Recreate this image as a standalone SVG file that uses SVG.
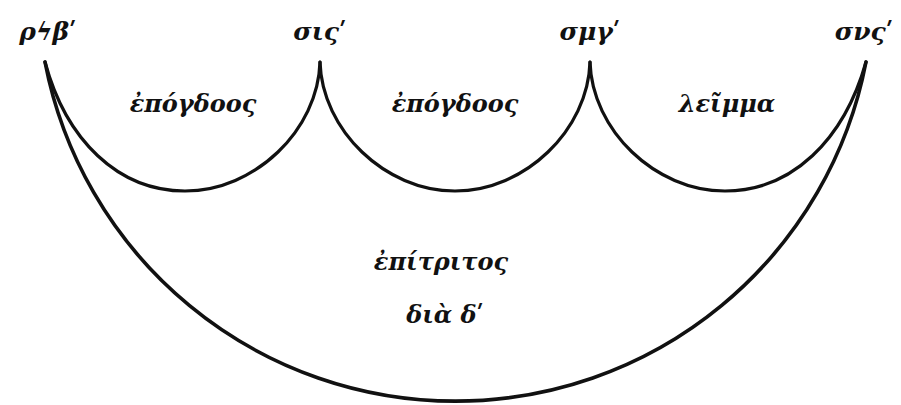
<svg xmlns="http://www.w3.org/2000/svg" width="901" height="405" viewBox="0 0 901 405">
<style>
.arc{fill:none;stroke:#111;stroke-linecap:round;stroke-linejoin:round}
.big{stroke-width:3.6}
.small{stroke-width:3.2}
text{font-family:"DejaVu Serif","Liberation Serif",serif;font-weight:bold;font-style:italic;fill:#111;text-anchor:middle}
.num{font-size:25px}
.lab{font-size:24px}
</style>
<rect width="901" height="405" fill="#fff"/>
<g id="connectors">
<path id="big-arc" class="arc big" d="M45,62 A418,418 0 0 0 866,62"/>
<path id="arc1" class="arc small" d="M45,62 C66,140 118,191 185,191 C255,191 318,130 320,62"/>
<path id="arc2" class="arc small" d="M320,62 C322,130 385,191 455,191 C525,191 588,130 590,62"/>
<path id="arc3" class="arc small" d="M590,62 C592,130 655,191 725,191 C792,191 844,140 866,62"/>
</g>
<g id="n192"><text class="num" x="48" y="40">ρϟβʹ</text></g>
<g id="n216"><text class="num" x="320" y="40">σιςʹ</text></g>
<g id="n243"><text class="num" x="590" y="40">σμγʹ</text></g>
<g id="n256"><text class="num" x="864" y="40">σνςʹ</text></g>
<g id="l1"><text class="lab" x="193" y="112">ἐπόγδοος</text></g>
<g id="l2"><text class="lab" x="455" y="112">ἐπόγδοος</text></g>
<g id="l3"><text class="lab" x="727" y="112">λεῖμμα</text></g>
<g id="l4"><text class="lab" x="441" y="270">ἐπίτριτος</text></g>
<g id="l5"><text class="lab" x="445" y="323">διὰ δʹ</text></g>
</svg>
